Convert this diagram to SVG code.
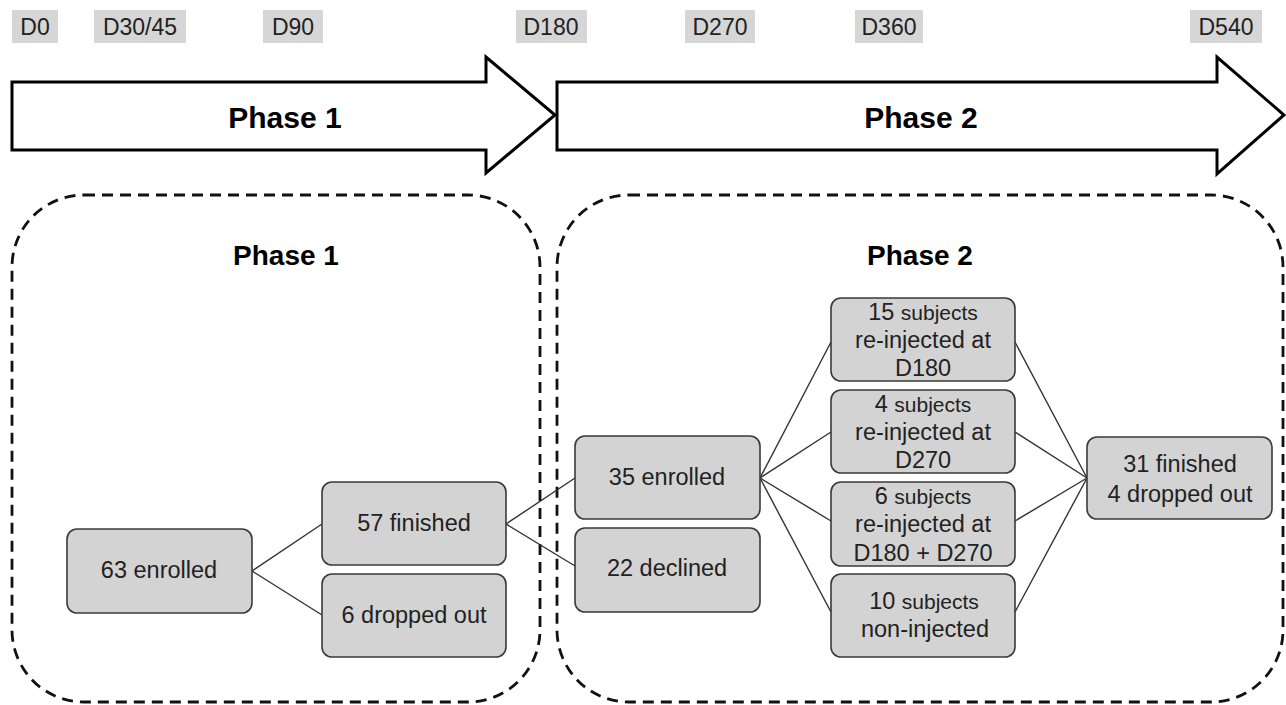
<svg xmlns="http://www.w3.org/2000/svg" width="1286" height="705" viewBox="0 0 1286 705">
<style>
text{font-family:'Liberation Sans',Arimo,Roboto,sans-serif;fill:#222;text-anchor:middle}
.lbl rect{fill:#d6d6d6}
.lbl text{font-size:23px}
.arrow{fill:#fff;stroke:#000;stroke-width:3;stroke-linejoin:miter}
.big{font-size:30px;font-weight:bold;fill:#000}
.title{font-size:28px;font-weight:bold;fill:#000}
.cont{fill:none;stroke:#111;stroke-width:2.8;stroke-dasharray:11 7}
.node rect{fill:#d3d3d3;stroke:#3a3a3a;stroke-width:1.6}
.node text{font-size:23.5px}
.sm{font-size:21px}
#connectors line{stroke:#333;stroke-width:1.4}
</style>
<rect width="1286" height="705" fill="#fff"/>
<g id="timeline-labels" class="lbl">
<g id="lbl-d0"><rect x="12" y="10" width="46" height="33"/><text x="35" y="35">D0</text></g>
<g id="lbl-d30"><rect x="94" y="10" width="92" height="33"/><text x="140" y="35">D30/45</text></g>
<g id="lbl-d90"><rect x="263" y="10" width="60" height="33"/><text x="293" y="35">D90</text></g>
<g id="lbl-d180"><rect x="516" y="10" width="71" height="33"/><text x="551" y="35">D180</text></g>
<g id="lbl-d270"><rect x="685" y="10" width="70" height="33"/><text x="720" y="35">D270</text></g>
<g id="lbl-d360"><rect x="855" y="10" width="68" height="33"/><text x="889" y="35">D360</text></g>
<g id="lbl-d540"><rect x="1190" y="10" width="72" height="33"/><text x="1226" y="35">D540</text></g>
</g>
<g id="arrow-phase1">
<polygon class="arrow" points="12,82 486,82 486,57 555,115 486,173 486,150 12,150"/>
<text class="big" x="285" y="128">Phase 1</text>
</g>
<g id="arrow-phase2">
<polygon class="arrow" points="557,82 1217,82 1217,57 1284,115 1217,174 1217,150 557,150"/>
<text class="big" x="921" y="128">Phase 2</text>
</g>
<g id="container-phase1">
<rect class="cont" x="12" y="195" width="528" height="507" rx="72" ry="72"/>
<text class="title" x="286" y="265">Phase 1</text>
</g>
<g id="container-phase2">
<rect class="cont" x="557" y="195" width="726" height="507" rx="72" ry="72"/>
<text class="title" x="920" y="265">Phase 2</text>
</g>
<g id="connectors">
<line x1="252" y1="571" x2="322" y2="524"/>
<line x1="252" y1="571" x2="322" y2="615"/>
<line x1="506" y1="524" x2="575" y2="478"/>
<line x1="506" y1="524" x2="575" y2="566"/>
<line x1="760" y1="478" x2="831" y2="342"/>
<line x1="760" y1="478" x2="831" y2="432"/>
<line x1="760" y1="478" x2="831" y2="521"/>
<line x1="760" y1="478" x2="831" y2="612"/>
<line x1="1015" y1="342" x2="1087" y2="478"/>
<line x1="1015" y1="432" x2="1087" y2="478"/>
<line x1="1015" y1="521" x2="1087" y2="478"/>
<line x1="1015" y1="612" x2="1087" y2="478"/>
</g>
<g id="n63" class="node"><rect x="67" y="529" width="185" height="84" rx="10"/><text x="159" y="578">63 enrolled</text></g>
<g id="n57" class="node"><rect x="322" y="482" width="184" height="83" rx="10"/><text x="414" y="531">57 finished</text></g>
<g id="n6" class="node"><rect x="322" y="574" width="184" height="83" rx="10"/><text x="414" y="623">6 dropped out</text></g>
<g id="n35" class="node"><rect x="575" y="436" width="185" height="83" rx="10"/><text x="667" y="485">35 enrolled</text></g>
<g id="n22" class="node"><rect x="575" y="528" width="185" height="84" rx="10"/><text x="667" y="576">22 declined</text></g>
<g id="n15s" class="node"><rect x="831" y="298" width="184" height="83" rx="10"/>
<text x="923" y="320">15 <tspan class="sm">subjects</tspan></text>
<text x="923" y="348">re-injected at</text>
<text x="923" y="376">D180</text></g>
<g id="n4s" class="node"><rect x="831" y="390" width="184" height="83" rx="10"/>
<text x="923" y="412">4 <tspan class="sm">subjects</tspan></text>
<text x="923" y="440">re-injected at</text>
<text x="923" y="468">D270</text></g>
<g id="n6s" class="node"><rect x="831" y="482" width="184" height="84" rx="10"/>
<text x="923" y="504">6 <tspan class="sm">subjects</tspan></text>
<text x="923" y="532">re-injected at</text>
<text x="923" y="561">D180 + D270</text></g>
<g id="n10s" class="node"><rect x="831" y="574" width="184" height="83" rx="10"/>
<text x="924" y="609">10 <tspan class="sm">subjects</tspan></text>
<text x="925" y="637">non-injected</text></g>
<g id="n31" class="node"><rect x="1087" y="437" width="185" height="82" rx="10"/>
<text x="1180" y="472">31 finished</text>
<text x="1180" y="502">4 dropped out</text></g>
</svg>
